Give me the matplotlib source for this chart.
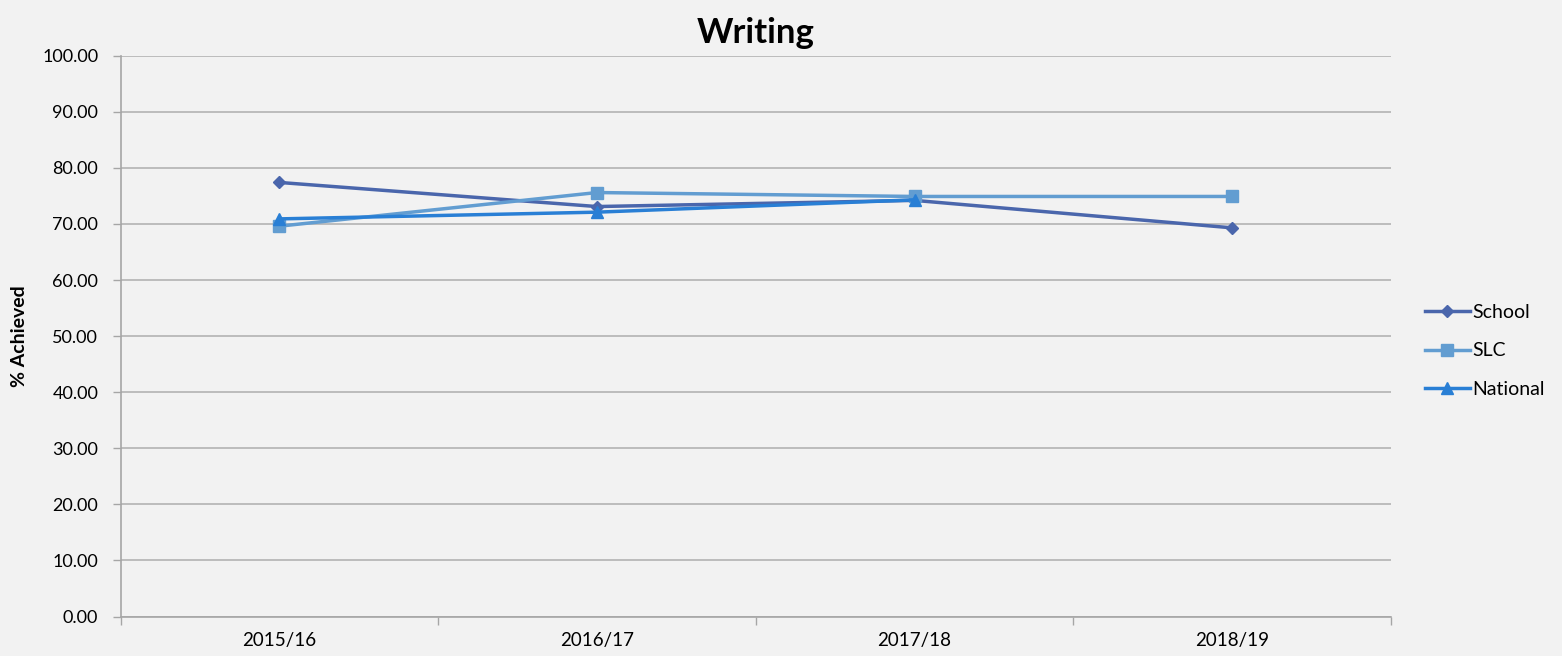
import matplotlib
matplotlib.use("Agg")
import matplotlib.pyplot as plt
from matplotlib.ticker import MultipleLocator, FixedLocator, FuncFormatter

categories = ["2015/16", "2016/17", "2017/18", "2018/19"]
school = [77.4, 73.1, 74.2, 69.3]
slc = [69.6, 75.6, 74.9, 74.9]
national = [70.9, 72.1, 74.3]

plt.rcParams['font.family'] = ['Lato', 'DejaVu Sans']

W, H = 1562, 656
fig = plt.figure(figsize=(W / 100, H / 100), dpi=100, facecolor="#F2F2F2")
ax = fig.add_axes([120.5 / W, 1 - 616.5 / H, (1391 - 120.5) / W, (616.5 - 55.7) / H])
ax.set_facecolor("#F2F2F2")

x = list(range(len(categories)))
ax.plot(x, school, color="#4A66AC", marker="D", markersize=6.5, linewidth=2.5, label="School", zorder=3)
ax.plot(x, slc, color="#629DD1", marker="s", markersize=8, linewidth=2.5, label="SLC", zorder=3)
ax.plot(x[:len(national)], national, color="#297FD5", marker="^", markersize=8, linewidth=2.5,
        label="National", zorder=4)

ax.set_xlim(-0.5, len(categories) - 0.5)
ax.set_ylim(0, 100)
ax.yaxis.set_major_locator(MultipleLocator(10))
ax.yaxis.set_major_formatter(FuncFormatter(lambda v, p: f"{v:.2f}"))
ax.grid(axis="y", color="#B3B3B3", linewidth=1.2)
ax.set_axisbelow(True)

ax.set_xticks(x)
ax.set_xticklabels(categories)
ax.xaxis.set_minor_locator(FixedLocator([i + 0.5 for i in range(-1, len(categories))]))
ax.tick_params(axis="x", which="major", length=0, pad=11, labelsize=13.5)
ax.tick_params(axis="x", which="minor", length=6, color="#A6A6A6", width=1)
ax.tick_params(axis="y", length=6, color="#A6A6A6", width=1, labelsize=13, pad=10)

for s in ["top", "right"]:
    ax.spines[s].set_visible(False)
for s in ["left", "bottom"]:
    ax.spines[s].set_color("#A6A6A6")
    ax.spines[s].set_linewidth(1.2)

ax.set_ylabel("% Achieved", fontsize=14, fontweight="bold", labelpad=10)
ax.set_title("Writing", fontsize=25, fontweight="bold", pad=9)

leg = fig.legend(loc="center left", bbox_to_anchor=(1425 / W, 1 - 351 / H), frameon=False, fontsize=14,
                 handlelength=2.3, handletextpad=0.15, labelspacing=1.1, borderaxespad=0, borderpad=0)

fig.savefig("out.png", dpi=100, facecolor=fig.get_facecolor())
